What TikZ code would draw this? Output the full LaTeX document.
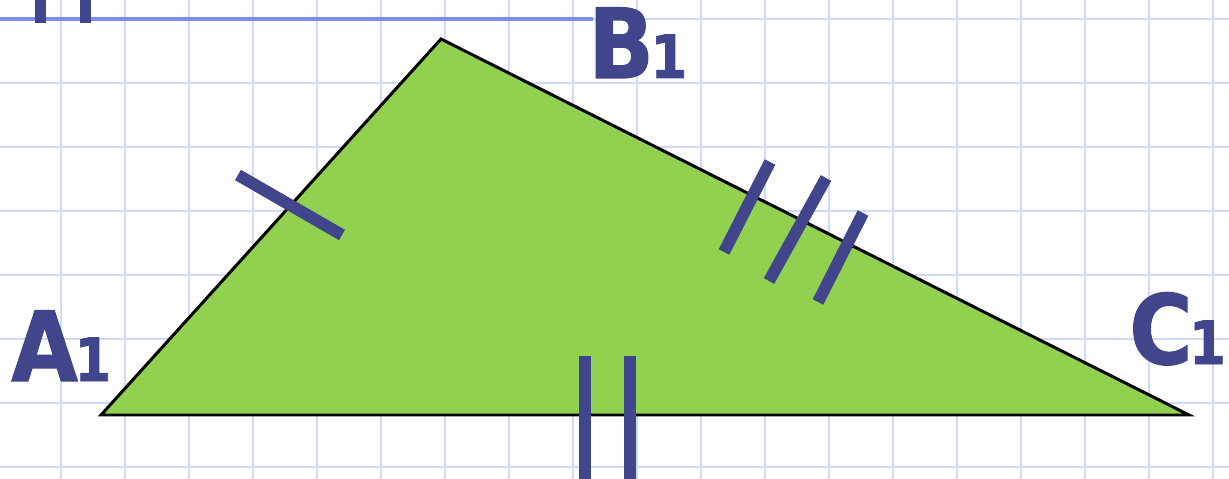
\documentclass[tikz,border=0pt]{standalone}
\usepackage{fontspec}
\setmainfont{DejaVu Sans}
\newfontfamily\labelfont{DejaVu Sans}[FakeStretch=0.89, FakeBold=1.2]
\definecolor{gridblue}{RGB}{206,218,250}
\definecolor{lineblue}{RGB}{122,143,245}
\definecolor{markblue}{RGB}{65,70,140}
\definecolor{trigreen}{RGB}{146,208,80}
\newcommand\idxfont{\fontsize{34}{34}\selectfont}
\begin{document}
\begin{tikzpicture}[
        x=0.02cm, y=-0.02cm,
        gridline/.style={draw=gridblue, line width=1.2pt},
        tick/.style={draw=markblue, line width=6.8pt},
        vlabel/.style={anchor=base west, inner sep=0pt, text=markblue, font=\labelfont\bfseries\fontsize{55}{55}\selectfont}
    ]
        \useasboundingbox (0,0) rectangle (1229,479);
        \clip (0,0) rectangle (1229,479);

        % squared paper
        \foreach \x in {61,125,...,1229} \draw[gridline] (\x,0) -- (\x,479);
        \foreach \y in {19,83,...,479} \draw[gridline] (0,\y) -- (1229,\y);
        \draw[lineblue, line width=1.8pt] (0,19) -- (593,19);
        \fill[markblue] (35,0) rectangle (46,23);
        \fill[markblue] (80,0) rectangle (91,23);

        \coordinate (A) at (101,415);
        \coordinate (B) at (441,39);
        \coordinate (C) at (1189,415);
        \draw[fill=trigreen, line width=1.7pt, line join=miter] (A) -- (B) -- (C) -- cycle;

        % equal sides
        \coordinate (ab1) at (238,175);
        \coordinate (ab2) at (342,235);
        \draw[tick] (ab1) -- (ab2);

        \coordinate (ac1) at (585,356);
        \coordinate (ac2) at (585,479);
        \coordinate (ac3) at (630,356);
        \coordinate (ac4) at (630,479);
        \draw[tick] (ac1) -- (ac2);
        \draw[tick] (ac3) -- (ac4);

        \coordinate (bc1) at (770,162);
        \coordinate (bc2) at (724,252);
        \coordinate (bc3) at (826,178);
        \coordinate (bc4) at (769,281);
        \coordinate (bc5) at (863,213);
        \coordinate (bc6) at (818,302);
        \draw[tick] (bc1) -- (bc2);
        \draw[tick] (bc3) -- (bc4);
        \draw[tick] (bc5) -- (bc6);

        \node[vlabel] (labA) at (11,381) {A\kern-2pt{\idxfont 1}};
        \node[vlabel] (labB) at (588,78) {B\kern-2pt{\idxfont 1}};
        \node[vlabel] (labC) at (1129,364) {C\kern-2pt{\idxfont 1}};
    \end{tikzpicture}
\end{document}
